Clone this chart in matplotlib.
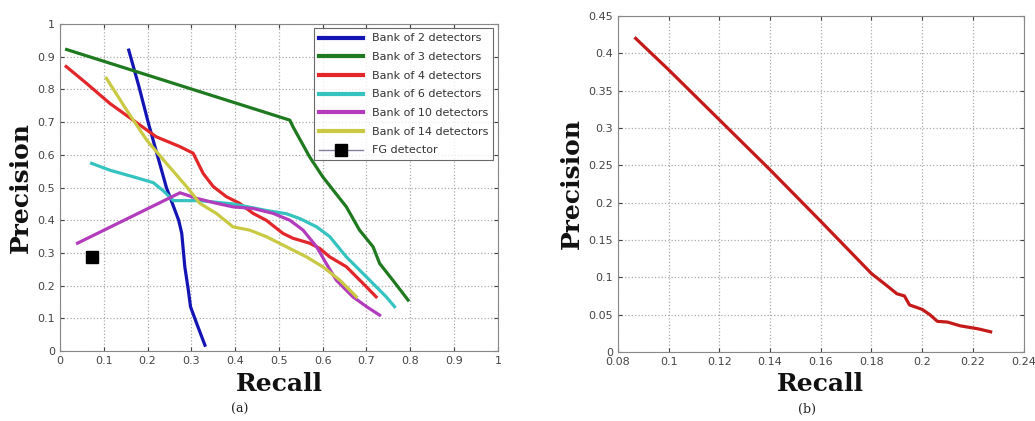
import matplotlib
matplotlib.use("Agg")
import matplotlib.pyplot as plt

# (a) precision/recall for banks of detectors
bank2_recall = [0.157, 0.180, 0.202, 0.243, 0.271, 0.278, 0.285, 0.293, 0.298, 0.312, 0.331]
bank2_prec = [0.920, 0.810, 0.696, 0.500, 0.400, 0.360, 0.258, 0.187, 0.136, 0.085, 0.018]

bank3_recall = [0.015, 0.525, 0.532, 0.570, 0.600, 0.624, 0.654, 0.684, 0.715, 0.730, 0.760, 0.795]
bank3_prec = [0.922, 0.706, 0.686, 0.594, 0.533, 0.492, 0.441, 0.370, 0.319, 0.268, 0.217, 0.156]

bank4_recall = [0.014, 0.061, 0.114, 0.167, 0.220, 0.274, 0.304, 0.327, 0.350, 0.380, 0.410, 0.441,
                0.471, 0.509, 0.532, 0.570, 0.593, 0.616, 0.654, 0.692, 0.722]
bank4_prec = [0.870, 0.818, 0.757, 0.706, 0.655, 0.625, 0.605, 0.543, 0.503, 0.472, 0.452, 0.421,
              0.400, 0.360, 0.345, 0.330, 0.314, 0.288, 0.258, 0.207, 0.166]

bank6_recall = [0.072, 0.114, 0.167, 0.213, 0.236, 0.259, 0.289, 0.319, 0.395, 0.471, 0.517, 0.548,
                0.586, 0.616, 0.654, 0.684, 0.722, 0.745, 0.764]
bank6_prec = [0.574, 0.553, 0.533, 0.515, 0.490, 0.460, 0.460, 0.460, 0.450, 0.430, 0.420, 0.405,
              0.380, 0.350, 0.288, 0.248, 0.197, 0.166, 0.136]

bank10_recall = [0.040, 0.274, 0.312, 0.357, 0.395, 0.441, 0.487, 0.525, 0.555, 0.586, 0.608, 0.631,
                 0.669, 0.700, 0.730]
bank10_prec = [0.330, 0.484, 0.467, 0.452, 0.441, 0.436, 0.421, 0.400, 0.370, 0.319, 0.268, 0.217,
               0.166, 0.136, 0.110]

bank14_recall = [0.106, 0.152, 0.198, 0.243, 0.289, 0.319, 0.357, 0.395, 0.433, 0.471, 0.517, 0.563,
                 0.600, 0.639, 0.677]
bank14_prec = [0.834, 0.737, 0.645, 0.574, 0.503, 0.452, 0.421, 0.380, 0.370, 0.350, 0.319, 0.288,
               0.258, 0.217, 0.166]

fg_recall = [0.072]
fg_prec = [0.289]

# (b) single curve
b_recall = [0.087, 0.100, 0.120, 0.140, 0.160, 0.180, 0.186, 0.190, 0.193, 0.195, 0.200, 0.203,
            0.206, 0.210, 0.215, 0.222, 0.227]
b_prec = [0.420, 0.378, 0.311, 0.244, 0.175, 0.105, 0.089, 0.078, 0.075, 0.063, 0.057, 0.050,
          0.041, 0.040, 0.035, 0.031, 0.027]

series = [
    (bank2_recall, bank2_prec, '#1414b4', 'Bank of 2 detectors'),
    (bank3_recall, bank3_prec, '#1f7a1f', 'Bank of 3 detectors'),
    (bank4_recall, bank4_prec, '#e2262a', 'Bank of 4 detectors'),
    (bank6_recall, bank6_prec, '#35c3c0', 'Bank of 6 detectors'),
    (bank10_recall, bank10_prec, '#b23cbc', 'Bank of 10 detectors'),
    (bank14_recall, bank14_prec, '#c9c944', 'Bank of 14 detectors'),
]

tick_color = '#444444'
spine_color = '#888888'


def style_axes(ax):
    ax.grid(True, linestyle=':', color='#aaaaaa', linewidth=0.9)
    ax.tick_params(direction='in', top=True, right=True, labelsize=8,
                   colors=tick_color, length=3)
    for s in ax.spines.values():
        s.set_color(spine_color)
    ax.set_xlabel('Recall', family='DejaVu Serif', weight='bold', fontsize=18,
                  color='#111111', labelpad=4)
    ax.set_ylabel('Precision', family='DejaVu Serif', weight='bold', fontsize=18,
                  color='#111111', labelpad=3)


fig = plt.figure(figsize=(10.35, 4.21), dpi=100)

ax1 = fig.add_axes([0.058, 0.166, 0.423, 0.777])
for r, p, c, lab in series:
    ax1.plot(r, p, color=c, linewidth=2.3, label=lab)
ax1.plot(fg_recall, fg_prec, color='#8080a0', linewidth=1, marker='s', markersize=9,
         markerfacecolor='black', markeredgecolor='black', label='FG detector')
ax1.set_xlim(0, 1)
ax1.set_ylim(0, 1)
ax1.set_xticks([i / 10 for i in range(11)])
ax1.set_yticks([i / 10 for i in range(11)])
ax1.set_xticklabels(['0', '0.1', '0.2', '0.3', '0.4', '0.5', '0.6', '0.7', '0.8', '0.9', '1'])
ax1.set_yticklabels(['0', '0.1', '0.2', '0.3', '0.4', '0.5', '0.6', '0.7', '0.8', '0.9', '1'])
style_axes(ax1)
leg = ax1.legend(loc='upper right', fontsize=8, handlelength=4, frameon=True, fancybox=False,
                 borderaxespad=0.4, labelspacing=0.78, borderpad=0.45)
leg.get_frame().set_edgecolor('#444444')
leg.get_frame().set_linewidth(0.8)
for t in leg.get_texts():
    t.set_color('#333333')
for h in leg.get_lines()[:-1]:
    h.set_linewidth(3)
fig.text(0.232, 0.02, '(a)', family='DejaVu Serif', fontsize=9, ha='center', color='#222222')

ax2 = fig.add_axes([0.597, 0.164, 0.392, 0.798])
ax2.plot(b_recall, b_prec, color='#c41a1a', linewidth=2.3)
ax2.set_xlim(0.08, 0.24)
ax2.set_ylim(0, 0.45)
ax2.set_xticks([0.08, 0.1, 0.12, 0.14, 0.16, 0.18, 0.2, 0.22, 0.24])
ax2.set_xticklabels(['0.08', '0.1', '0.12', '0.14', '0.16', '0.18', '0.2', '0.22', '0.24'])
ax2.set_yticks([0, 0.05, 0.1, 0.15, 0.2, 0.25, 0.3, 0.35, 0.4, 0.45])
ax2.set_yticklabels(['0', '0.05', '0.1', '0.15', '0.2', '0.25', '0.3', '0.35', '0.4', '0.45'])
style_axes(ax2)
fig.text(0.78, 0.02, '(b)', family='DejaVu Serif', fontsize=9, ha='center', color='#222222')

fig.savefig('out.png', dpi=100, facecolor='white')
